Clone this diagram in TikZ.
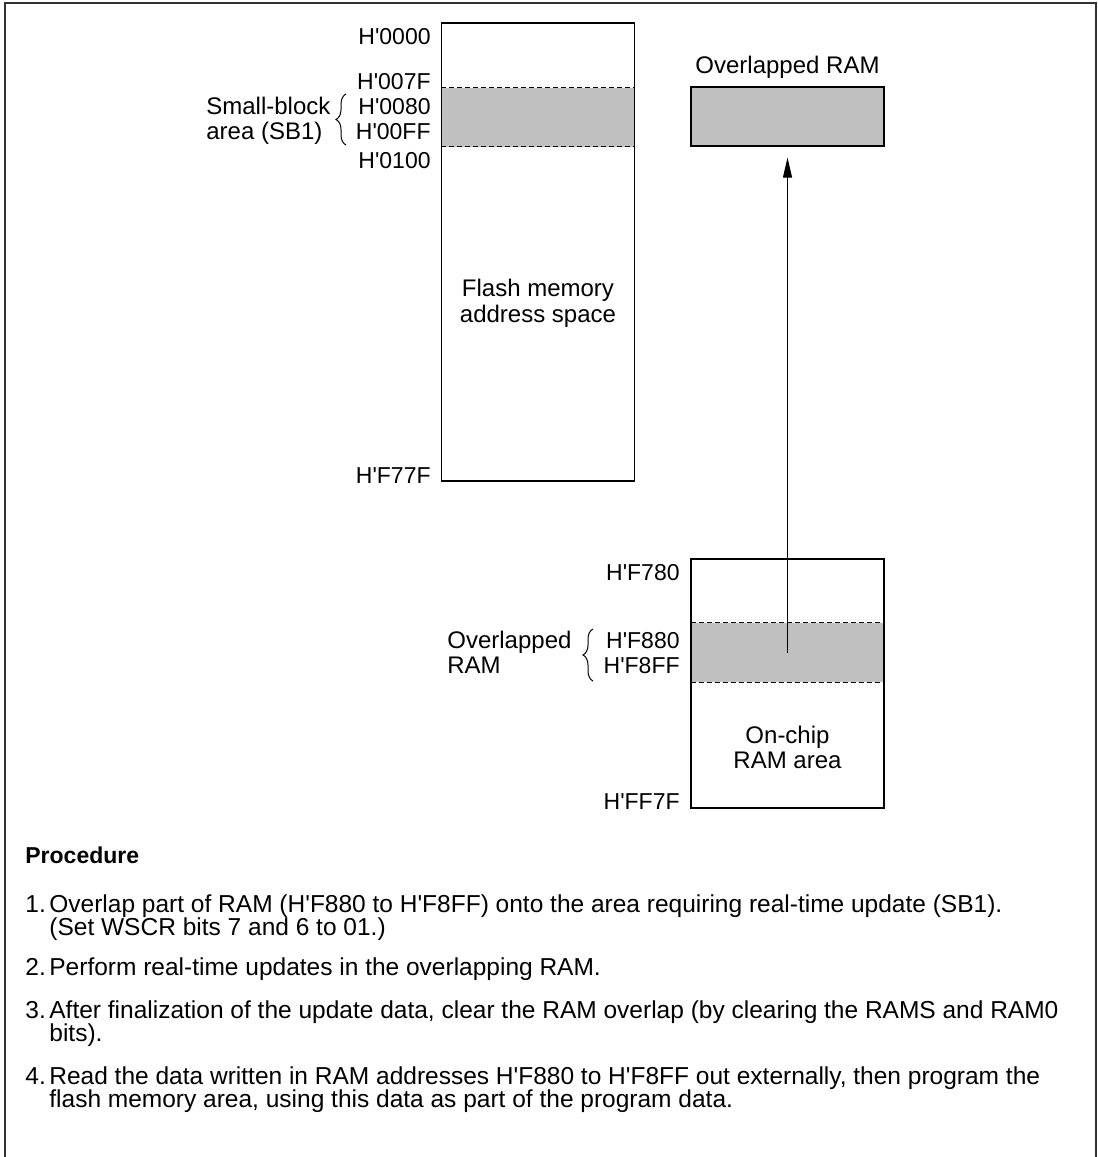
\documentclass[tikz,border=0pt]{standalone}
\usepackage{fontspec}
\setmainfont{Liberation Sans}
\usepackage{xcolor}
\definecolor{bandGray}{RGB}{192,192,192}
\definecolor{frameDark}{RGB}{50,50,50}
\usepackage{tikz}
\usetikzlibrary{
    arrows.meta,
    decorations.pathreplacing,
    positioning
}
\newcommand{\hadr}[1]{H\textquotesingle#1}

\begin{document}
\begin{tikzpicture}[
    x=0.5pt, y=-0.5pt,
    every node/.style={font=\fontsize{12}{14}\selectfont, inner sep=0pt},
    memBox/.style={
        rectangle, draw=black, line width=0.6pt,
        minimum width=96.5pt
    },
    bandBox/.style={
        rectangle, fill=bandGray,
        minimum width=96.5pt, minimum height=29.5pt
    },
    dashLine/.style={
        draw=black, dash pattern=on 2.5pt off 1.5pt, line width=0.5pt
    },
    addrLabel/.style={anchor=base east, font=\fontsize{11.5}{13}\selectfont},
    sideLabel/.style={anchor=base west},
    braceLine/.style={
        decorate, decoration={brace, amplitude=5pt}, line width=0.5pt
    },
    upArrow/.style={
        -{Triangle[length=10pt, width=4.5pt]}, line width=0.6pt
    },
    frameLine/.style={draw=frameDark, line width=0.8pt},
    stepNum/.style={anchor=base west, font=\fontsize{12.25}{14}\selectfont},
    stepText/.style={anchor=base west, font=\fontsize{12.25}{14}\selectfont}
]
    \useasboundingbox (0,0) rectangle (1098,1157);

    % Outer frame
    \draw[frameLine] (5,1157) -- (5,3) -- (1096,3) -- (1096,1157);

    % Flash memory address space
    \node[bandBox] (sbBand) at (538,117) {};
    \node[memBox, minimum height=229pt] (flash) at (538,252) {};
    \draw[dashLine] (sbBand.north west) -- (sbBand.north east);
    \draw[dashLine] (sbBand.south west) -- (sbBand.south east);
    \node (flashTxtA) at (538,296) [anchor=base] {Flash memory};
    \node (flashTxtB) at (538,322) [anchor=base] {address space};

    \node[addrLabel] (a0000) at (431,44) {\hadr{0000}};
    \node[addrLabel] (a007F) at (431,89) {\hadr{007F}};
    \node[addrLabel] (a0080) at (431,114) {\hadr{0080}};
    \node[addrLabel] (a00FF) at (431,139) {\hadr{00FF}};
    \node[addrLabel] (a0100) at (431,168) {\hadr{0100}};
    \node[addrLabel] (aF77F) at (431,483) {\hadr{F77F}};

    \draw[braceLine] (346,145) -- (346,94);
    \node[anchor=base west] (sbTxtA) at (206,114) {Small-block};
    \node[sideLabel] (sbTxtB) at (206,139) {area (SB1)};

    % Overlapped RAM (mapped)
    \node (ovTitle) at (787.5,73) [anchor=base] {Overlapped RAM};
    \node[bandBox, draw=black, line width=0.6pt] (ovBox) at (787.5,116.5) {};

    % On-chip RAM area
    \node[bandBox] (ramBand) at (787.5,652.5) {};
    \node[memBox, minimum height=124.5pt] (ram) at (787.5,683.5) {};
    \draw[dashLine] (ramBand.north west) -- (ramBand.north east);
    \draw[dashLine] (ramBand.south west) -- (ramBand.south east);
    \node (ramTxtA) at (787.5,743) [anchor=base] {On-chip};
    \node (ramTxtB) at (787.5,768) [anchor=base] {RAM area};

    \node[addrLabel] (aF780) at (680,580) {\hadr{F780}};
    \node[addrLabel] (aF880) at (680,648) {\hadr{F880}};
    \node[addrLabel] (aF8FF) at (680,673) {\hadr{F8FF}};
    \node[addrLabel] (aFF7F) at (680,809) {\hadr{FF7F}};

    \draw[braceLine] (593,681) -- (593,629);
    \node[sideLabel] (ovTxtA) at (447,648) {Overlapped};
    \node[sideLabel] (ovTxtB) at (447,673) {RAM};

    \draw[upArrow] (ramBand.center) -- ([yshift=-5.5pt]ovBox.south);

    % Procedure
    \node[anchor=base west, font=\fontsize{11.5}{13}\selectfont\bfseries] (proc) at (25,863) {Procedure};

    \node[stepNum] (n1) at (25,912) {1.};
    \node[stepText] (t1a) at (49,912) {Overlap part of RAM (\hadr{F880} to \hadr{F8FF}) onto the area requiring real-time update (SB1).};
    \node[stepText] (t1b) at (49,935) {(Set WSCR bits 7 and 6 to 01.)};

    \node[stepNum] (n2) at (25,975) {2.};
    \node[stepText] (t2a) at (49,975) {Perform real-time updates in the overlapping RAM.};

    \node[stepNum] (n3) at (25,1018) {3.};
    \node[stepText] (t3a) at (49,1018) {After finalization of the update data, clear the RAM overlap (by clearing the RAMS and RAM0};
    \node[stepText] (t3b) at (49,1041) {bits).};

    \node[stepNum] (n4) at (25,1084) {4.};
    \node[stepText] (t4a) at (49,1084) {Read the data written in RAM addresses \hadr{F880} to \hadr{F8FF} out externally, then program the};
    \node[stepText] (t4b) at (49,1107) {flash memory area, using this data as part of the program data.};

\end{tikzpicture}
\end{document}
